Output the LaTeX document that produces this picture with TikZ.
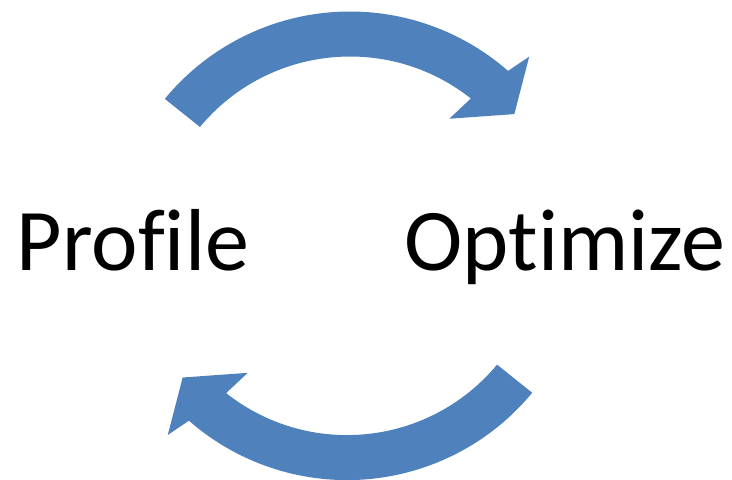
\documentclass[tikz,border=0pt]{standalone}
\usepackage{fontspec}
\setmainfont{Carlito}[RawFeature={-liga,-clig,-dlig}]
\usepackage{tikz}
\usetikzlibrary{positioning,
                calc}                       % polar offsets from the arc centre

\definecolor{loopblue}{HTML}{4F81BD}

\tikzset{
    word/.style={font=\fontsize{66}{79}\selectfont, inner sep=0pt, anchor=base},
    % curved block arrow, drawn around its arc centre
    loop arrow/.pic={
        \fill[loopblue] (140.5:240) arc[start angle=140.5, end angle=48.8, radius=240]
            -- (47.4:264.8) -- (39.9:214.2) -- (53.2:165.8) -- (51.7:195)
            arc[start angle=51.7, end angle=140.3, radius=195] -- cycle;
    }
}

\begin{document}
\begin{tikzpicture}[x=0.75pt, y=0.75pt]
    \useasboundingbox (0,0) rectangle (732,479);

    \node[word] (profile) at (133,208) {Profile};
    \node[word] (optimize) at (565,208) {Optimize};

    % upper arrow goes right, lower one comes back
    \pic at (350,227.5) {loop arrow};
    \pic[rotate=180] at (347,238.9) {loop arrow};
\end{tikzpicture}
\end{document}
